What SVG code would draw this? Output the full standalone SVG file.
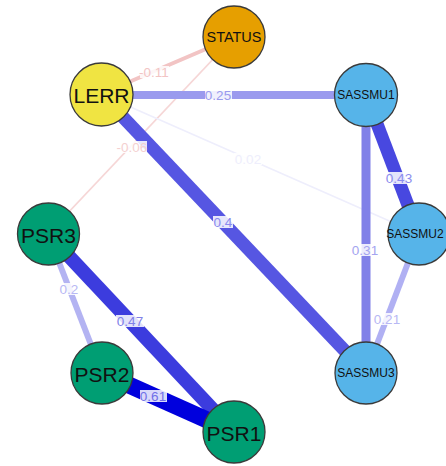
<svg xmlns="http://www.w3.org/2000/svg" width="446" height="466" viewBox="0 0 446 466">
<style>
.node circle{stroke:#3a3a3a;stroke-width:1.3}
.node text{font-family:"Liberation Sans",Arial,sans-serif;text-anchor:middle;dominant-baseline:central;fill:#111}
.big{font-size:21px}
.mid{font-size:14.5px}
.sm{font-size:12px}
.edges line{stroke-linecap:butt}
.lbl rect{fill:#fff;fill-opacity:0.85}
.lbl text{font-family:"Liberation Sans",Arial,sans-serif;font-size:13.5px;text-anchor:middle;dominant-baseline:central}
</style>
<rect width="446" height="466" fill="#fff"/>
<g id="edges" class="edges">
<line x1="234" y1="37" x2="48" y2="234" stroke="#f6d6d6" stroke-width="1.8"/>
<line x1="101" y1="94" x2="419" y2="234" stroke="#eeeefc" stroke-width="1.5"/>
<line x1="234" y1="37" x2="101" y2="94" stroke="#f2c4c4" stroke-width="4"/>
<line x1="101" y1="95" x2="366" y2="95" stroke="#9a9aee" stroke-width="8"/>
<line x1="101" y1="94" x2="366" y2="373" stroke="#5656e2" stroke-width="13"/>
<line x1="366" y1="95" x2="419" y2="234" stroke="#4848e0" stroke-width="13"/>
<line x1="366" y1="95" x2="366" y2="373" stroke="#8080e8" stroke-width="9"/>
<line x1="419" y1="234" x2="366" y2="373" stroke="#b0b0f3" stroke-width="6"/>
<line x1="48" y1="234" x2="102" y2="373" stroke="#b3b3f2" stroke-width="6"/>
<line x1="48" y1="234" x2="234" y2="432" stroke="#3c3cde" stroke-width="14"/>
<line x1="102" y1="373" x2="234" y2="432" stroke="#0000dd" stroke-width="17"/>
</g>
<g id="edge-labels">
<g class="lbl"><rect x="140" y="66" width="29" height="12"/><text x="154" y="72" fill="#f2c4c4">-0.11</text></g>
<g class="lbl"><rect x="118" y="141" width="29" height="12"/><text x="132" y="147" fill="#f4d0d0">-0.06</text></g>
<g class="lbl"><rect x="205" y="89" width="27" height="12"/><text x="218" y="95" fill="#9a9aee">0.25</text></g>
<g class="lbl"><rect x="234" y="153" width="28" height="12"/><text x="248" y="159" fill="#eeeefc">0.02</text></g>
<g class="lbl"><rect x="213" y="216" width="20" height="12"/><text x="223" y="222" fill="#8a8aee">0.4</text></g>
<g class="lbl"><rect x="385" y="172" width="28" height="12"/><text x="399" y="178" fill="#8c8cee">0.43</text></g>
<g class="lbl"><rect x="352" y="244" width="26" height="12"/><text x="365" y="250" fill="#a4a4f0">0.31</text></g>
<g class="lbl"><rect x="373" y="313" width="28" height="12"/><text x="387" y="319" fill="#b8b8f4">0.21</text></g>
<g class="lbl"><rect x="59" y="283" width="20" height="12"/><text x="69" y="289" fill="#b8b8f4">0.2</text></g>
<g class="lbl"><rect x="116" y="315" width="28" height="12"/><text x="130" y="321" fill="#8080e8">0.47</text></g>
<g class="lbl"><rect x="140" y="390" width="27" height="12"/><text x="153" y="396" fill="#7070e8">0.61</text></g>
</g>
<g id="STATUS" class="node"><circle cx="234" cy="37" r="31" fill="#e69f00"/><text class="mid" x="234" y="37">STATUS</text></g>
<g id="LERR" class="node"><circle cx="101.5" cy="94.5" r="31.5" fill="#f0e442"/><text class="big" x="101.5" y="95">LERR</text></g>
<g id="SASSMU1" class="node"><circle cx="366" cy="95" r="31.5" fill="#56b4e9"/><text class="sm" x="366" y="95">SASSMU1</text></g>
<g id="SASSMU2" class="node"><circle cx="419" cy="234" r="31" fill="#56b4e9"/><text class="sm" x="415" y="234">SASSMU2</text></g>
<g id="SASSMU3" class="node"><circle cx="366" cy="373" r="31" fill="#56b4e9"/><text class="sm" x="366" y="373">SASSMU3</text></g>
<g id="PSR3" class="node"><circle cx="48.5" cy="234" r="31" fill="#009e73"/><text class="big" x="48.5" y="235">PSR3</text></g>
<g id="PSR2" class="node"><circle cx="102" cy="373" r="31" fill="#009e73"/><text class="big" x="102" y="374">PSR2</text></g>
<g id="PSR1" class="node"><circle cx="234" cy="432" r="31" fill="#009e73"/><text class="big" x="234" y="433">PSR1</text></g>
</svg>
